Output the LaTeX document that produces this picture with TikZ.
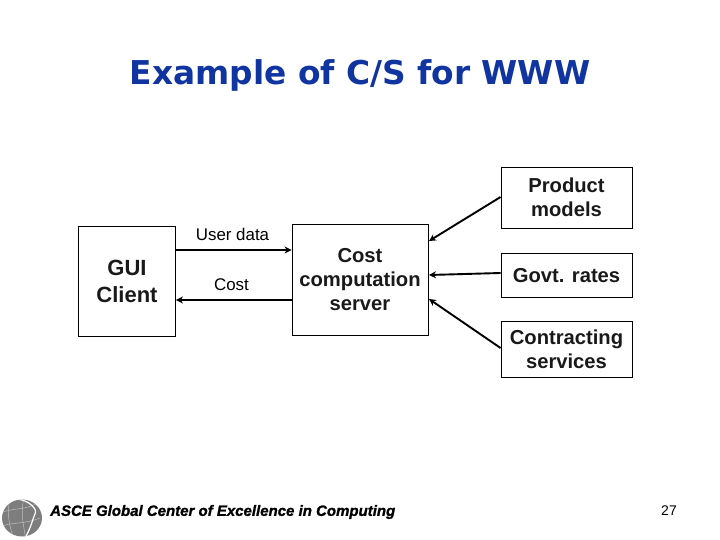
\documentclass[tikz,border=0pt]{standalone}
\usepackage{fontspec}
\setmainfont{Liberation Sans}
\newfontfamily\titlefont{DejaVu Sans}
\newfontfamily\logofont[FakeBold=1.2]{Liberation Sans Bold Italic}
\usetikzlibrary{arrows.meta}
\definecolor{titleblue}{RGB}{16,52,160}
\definecolor{globegray}{RGB}{125,125,125}
\definecolor{globeline}{RGB}{190,190,190}
\definecolor{softblack}{RGB}{25,25,25}
\tikzset{
  x=1pt,y=-1pt,
  boxnode/.style={draw=black,line width=0.9pt,inner sep=0pt},
  boxtext/.style={inner sep=0pt,align=center,text=softblack,font=\bfseries\fontsize{20.2}{24}\selectfont},
  link/.style={draw=black,line width=1.9pt,-{Stealth[length=7pt,width=7pt]}},
  lbl/.style={inner sep=0pt,font=\fontsize{16.9}{19}\selectfont}
}
\begin{document}
\begin{tikzpicture}
\useasboundingbox (0,0) rectangle (720,540);
\fill[white] (0,0) rectangle (720,540);
\node[inner sep=0pt,text=titleblue,font=\titlefont\bfseries\fontsize{32.8}{38}\selectfont] (title) at (360,75.5) {Example of C/S for WWW};
\node[boxnode,minimum width=97pt,minimum height=110pt] (gui) at (127,281) {};
\node[boxtext,font=\bfseries\fontsize{22}{27}\selectfont] (guit) at (127,281.5) {GUI\\Client};
\node[boxnode,minimum width=136pt,minimum height=111pt] (srv) at (360,279.5) {};
\node[boxtext] (srvt) at (360,279.5) {Cost\\computation\\server};
\node[boxnode,minimum width=131pt,minimum height=61pt] (prod) at (566.5,197.5) {};
\node[boxtext] (prodt) at (566.5,197.5) {Product\\models};
\node[boxnode,minimum width=131pt,minimum height=44pt] (govt) at (566.5,275) {};
\node[boxtext] (govtt) at (566.5,276) {Govt. rates};
\node[boxnode,minimum width=131pt,minimum height=56pt] (cont) at (566.5,349) {};
\node[boxtext] (contt) at (566.5,349.5) {Contracting\\services};
\node[lbl] (ud) at (232.5,234) {User data};
\node[lbl] (cl) at (231.5,285) {Cost};
\coordinate (a1) at (gui.east |- 0,250);
\coordinate (a2) at (srv.west |- 0,250);
\coordinate (b1) at (srv.west |- 0,300);
\coordinate (b2) at (gui.east |- 0,300);
\coordinate (c1) at (prod.west |- 0,197);
\coordinate (c2) at (429,241);
\coordinate (d1) at (govt.west |- 0,273);
\coordinate (d2) at (429,275);
\coordinate (e1) at (cont.west |- 0,348);
\coordinate (e2) at (429,299);
\draw[link] (a1) -- (a2);
\draw[link] (b1) -- (b2);
\draw[link] (c1) -- (c2);
\draw[link] (d1) -- (d2);
\draw[link] (e1) -- (e2);
% logo
\fill[globegray] (22,518) ellipse (20 and 18.5);
\begin{scope}
\clip (22,518) ellipse (20 and 18.5);
\draw[globeline,line width=0.5pt] (3,512) .. controls (14,508) and (24,510) .. (36,504);
\draw[globeline,line width=0.5pt] (2,526) .. controls (14,522) and (26,524) .. (40,518);
\draw[globeline,line width=0.5pt] (10,500) .. controls (6,512) and (10,528) .. (14,540);
\draw[globeline,line width=0.5pt] (24,498) .. controls (20,512) and (24,528) .. (26,540);
\draw[white,line width=1.2pt] (16,499) .. controls (30,500) and (38,510) .. (35,514) .. controls (33,518) and (31,528) .. (24,540);
\end{scope}
\node[inner sep=0pt,anchor=west,font=\logofont\fontsize{15}{19}\selectfont] (logo) at (50,512) {ASCE Global Center of Excellence in Computing};
\node[inner sep=0pt,font=\fontsize{14}{17}\selectfont] (pg) at (669,511) {27};
\end{tikzpicture}
\end{document}
